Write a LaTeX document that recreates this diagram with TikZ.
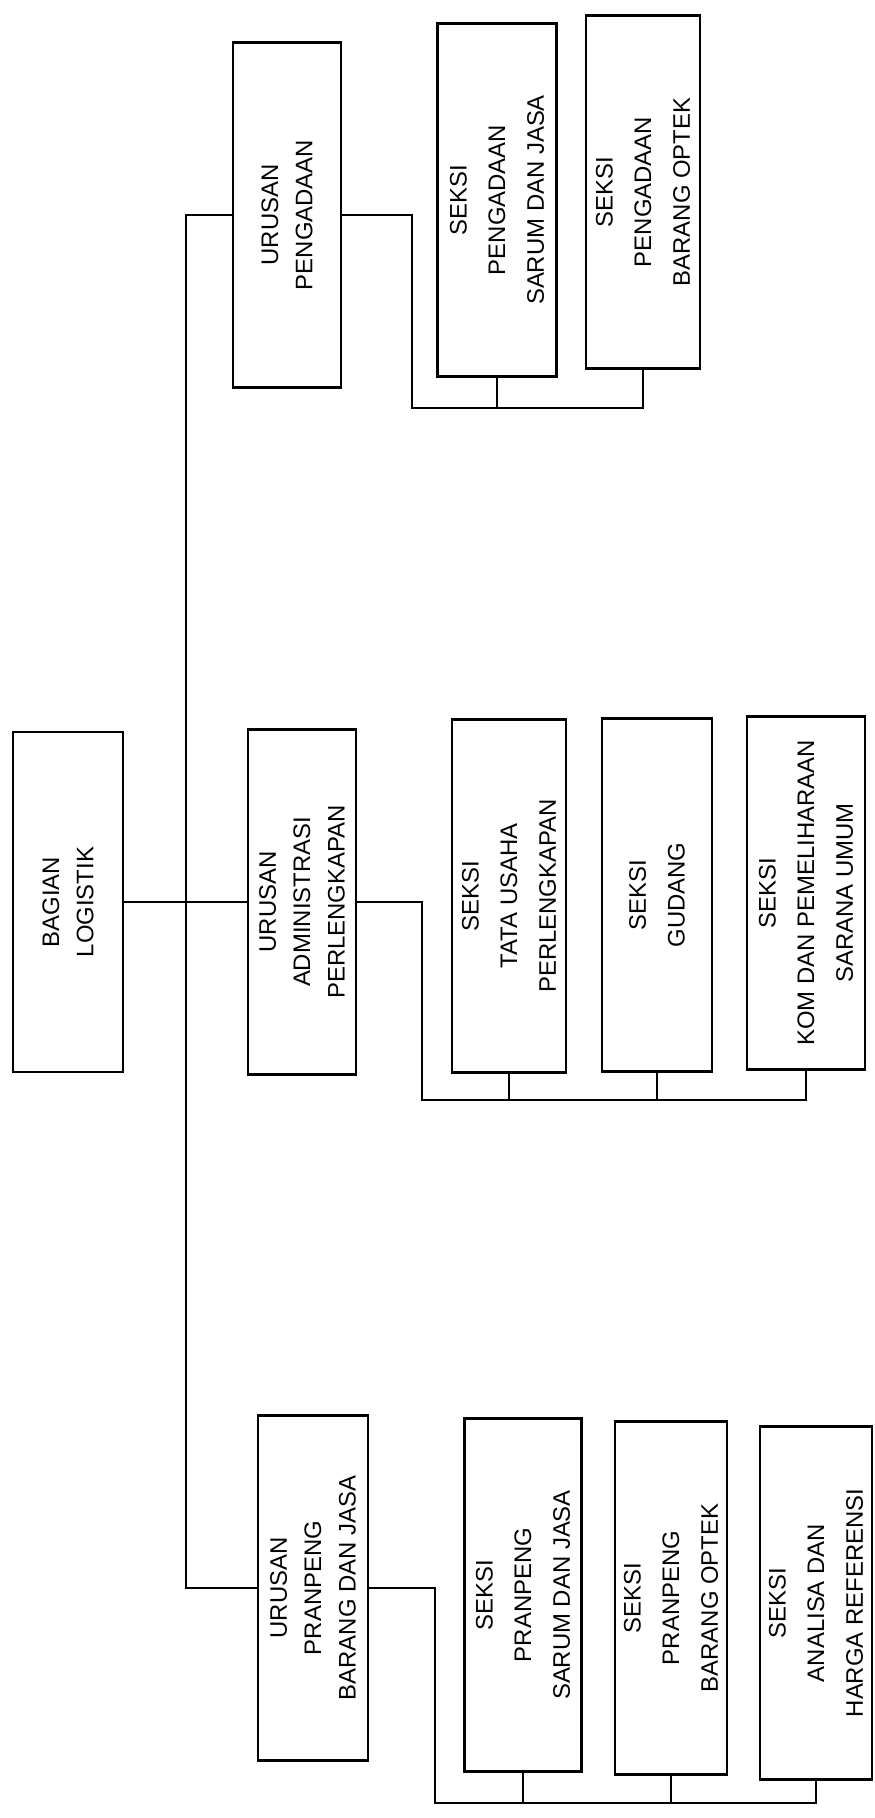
\documentclass[tikz,border=0pt]{standalone}
\usepackage{fontspec}
\setmainfont{Liberation Sans}
\begin{document}
\begin{tikzpicture}[x=0.1mm,y=-0.1mm,line width=0.6pt,
 unitbox/.style={draw,rotate=90,align=center,inner sep=0pt,minimum width=34.5mm,minimum height=10.8mm,font=\fontsize{6.8}{9.8}\selectfont},
 seksibox/.style={draw,rotate=90,align=center,inner sep=0pt,minimum width=35.3mm,minimum height=11.4mm,font=\fontsize{6.8}{11}\selectfont},
 link/.style={draw,line width=0.6pt}]
\useasboundingbox (0,0) rectangle (874,1818);
% kepala bagian
\node[unitbox,minimum width=34mm,minimum height=11mm] (bagian) at (68,902) {BAGIAN\\LOGISTIK};
% urusan
\node[unitbox] (urpeng) at (287,215) {URUSAN\\PENGADAAN};
\node[unitbox] (admin) at (302,902) {URUSAN\\ADMINISTRASI\\PERLENGKAPAN};
\node[unitbox,minimum height=11mm] (urpran) at (313,1588) {URUSAN\\PRANPENG\\BARANG DAN JASA};
% seksi
\node[seksibox,minimum height=11.9mm] (spsarum) at (497,200) {SEKSI\\PENGADAAN\\SARUM DAN JASA};
\node[seksibox] (spoptek) at (643,192) {SEKSI\\PENGADAAN\\BARANG OPTEK};
\node[seksibox] (stata) at (509,896) {SEKSI\\TATA USAHA\\PERLENGKAPAN};
\node[seksibox,minimum height=11mm] (sgudang) at (657,895) {SEKSI\\GUDANG};
\node[seksibox,minimum height=11.8mm] (skom) at (806,893) {SEKSI\\KOM DAN PEMELIHARAAN\\SARANA UMUM};
\node[seksibox,minimum height=11.7mm] (sprsarum) at (523,1595) {SEKSI\\PRANPENG\\SARUM DAN JASA};
\node[seksibox,minimum height=11.2mm] (sproptek) at (671,1598) {SEKSI\\PRANPENG\\BARANG OPTEK};
\node[seksibox,minimum height=11.2mm] (sanalisa) at (816,1603) {SEKSI\\ANALISA DAN\\HARGA REFERENSI};
% garis
\coordinate (trunk) at (186,902);
\coordinate (busA) at (412,408);
\coordinate (busB) at (422,1100);
\coordinate (busC) at (435,1803);
\draw[link] (bagian.south) -- (admin.north);
\draw[link] (urpeng.north) -| (trunk) |- (urpran.north);
\draw[link] (urpeng.south) -| (busA) -| (spoptek.west);
\draw[link] (spsarum.west) -- (spsarum.west |- busA);
\draw[link] (admin.south) -| (busB) -| (skom.west);
\draw[link] (stata.west) -- (stata.west |- busB);
\draw[link] (sgudang.west) -- (sgudang.west |- busB);
\draw[link] (urpran.south) -| (busC) -| (sanalisa.west);
\draw[link] (sprsarum.west) -- (sprsarum.west |- busC);
\draw[link] (sproptek.west) -- (sproptek.west |- busC);
\end{tikzpicture}
\end{document}
